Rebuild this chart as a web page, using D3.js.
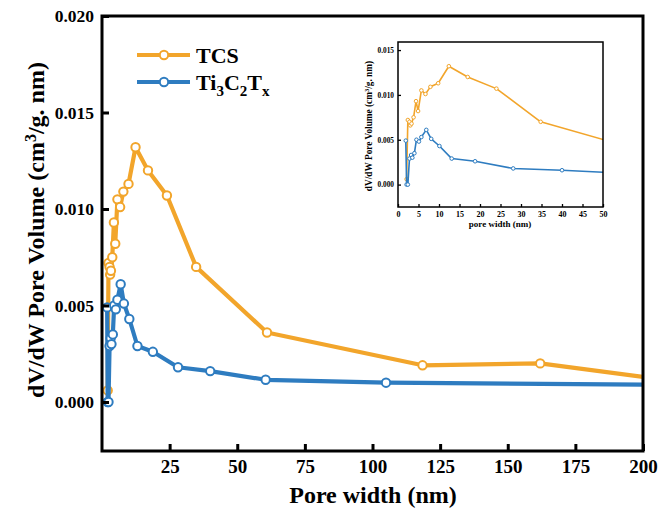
<!DOCTYPE html>
<html>
<head>
<meta charset="utf-8">
<script src="https://cdn.jsdelivr.net/npm/d3@7"></script>
<style>
  body { margin: 0; background: #fff; }
  text { font-family: "Liberation Serif", "Times New Roman", serif; font-weight: bold; }
</style>
</head>
<body>
<script>
// pore width (nm) and dV/dW values
var tcsX = [2.1, 2.4, 2.8, 3.0, 3.3, 3.8, 4.4, 4.9, 5.7, 6.7, 7.9, 9.8, 12.4, 17.0, 24.0, 34.8, 61.0, 118.5, 162.0, 200.0];
var tcsY = [0.0006, 0.0072, 0.0070, 0.0066, 0.0068, 0.0075, 0.0093, 0.0082, 0.0105, 0.0101, 0.0109, 0.0113, 0.0132, 0.0120, 0.0107, 0.0070, 0.0036, 0.0019, 0.0020, 0.0013];
var tiX = [1.9, 2.1, 2.4, 2.8, 3.2, 3.5, 4.0, 4.5, 5.1, 5.7, 6.9, 8.1, 10.1, 13.1, 18.8, 28.1, 40.0, 60.5, 105.0, 200.0];
var tiY = [0.0049, 0.0000, 0.0000, 0.0029, 0.0033, 0.0030, 0.0035, 0.0050, 0.0048, 0.0053, 0.0061, 0.0051, 0.0043, 0.0029, 0.0026, 0.0018, 0.0016, 0.00115, 0.0010, 0.0009];

var xTicks = [25, 50, 75, 100, 125, 150, 175, 200];
var yTicks = [0, 0.005, 0.010, 0.015, 0.020];
var insetXTicks = [0, 5, 10, 15, 20, 25, 30, 35, 40, 45, 50];
var insetYTicks = [0, 0.005, 0.010, 0.015];

var orange = "#f2a52b", blue = "#2e7cc0";

var w = 662, h = 511;
var svg = d3.select("body").append("svg")
    .attr("width", w)
    .attr("height", h);

function zip(xs, ys) {
    return xs.map(function(x, i) { return [x, ys[i]]; });
}
var tcs = zip(tcsX, tcsY);
var ti = zip(tiX, tiY);

// draws one framed plot with two series
function drawPlot(g, opt) {
    var x = d3.scaleLinear().domain(opt.xDomain).range([opt.left, opt.right]);
    var y = d3.scaleLinear().domain(opt.yDomain).range([opt.bottom, opt.top]);

    var clipId = "clip-" + opt.name;
    g.append("clipPath").attr("id", clipId)
      .append("rect")
        .attr("x", opt.left).attr("y", opt.top)
        .attr("width", opt.right - opt.left)
        .attr("height", opt.bottom - opt.top);

    var line = d3.line()
        .x(function(d) { return x(d[0]); })
        .y(function(d) { return y(d[1]); });

    var plotArea = g.append("g").attr("clip-path", "url(#" + clipId + ")");
    [[tcs, orange], [ti, blue]].forEach(function(s) {
        var pts = s[0].filter(function(d) { return d[0] <= opt.xDomain[1] + 60; });
        plotArea.append("path")
            .datum(pts)
            .attr("d", line)
            .attr("fill", "none")
            .attr("stroke", s[1])
            .attr("stroke-width", opt.lineW)
            .attr("stroke-linejoin", "round");
        // no marker on the points sitting on the right border
        plotArea.selectAll(null)
            .data(pts.filter(function(d) { return d[0] < opt.xDomain[1]; }))
            .enter().append("circle")
            .attr("cx", function(d) { return x(d[0]); })
            .attr("cy", function(d) { return y(d[1]); })
            .attr("r", opt.markR)
            .attr("fill", "#fff")
            .attr("stroke", s[1])
            .attr("stroke-width", opt.markW);
    });

    // axes with inward ticks
    var xAxis = g.append("g")
        .attr("transform", "translate(0," + opt.bottom + ")")
        .call(d3.axisBottom(x).tickValues(opt.xTicks).tickSize(-opt.tickLen).tickPadding(opt.tickLen + opt.xPad)
            .tickFormat(d3.format("d")));
    var yAxis = g.append("g")
        .attr("transform", "translate(" + opt.left + ",0)")
        .call(d3.axisLeft(y).tickValues(opt.yTicks).tickSize(-opt.tickLen).tickPadding(opt.tickLen + opt.yPad)
            .tickFormat(d3.format(".3f")));
    [[xAxis, opt.xFont], [yAxis, opt.yFont]].forEach(function(a) {
        a[0].select(".domain").remove();
        a[0].selectAll(".tick line").attr("stroke", "#000").attr("stroke-width", opt.tickW);
        a[0].selectAll(".tick text")
            .attr("fill", "#000")
            .style("font-size", a[1] + "px")
            .style("font-family", "'Liberation Serif', serif")
            .style("font-weight", "bold");
    });

    g.append("rect")
        .attr("x", opt.left).attr("y", opt.top)
        .attr("width", opt.right - opt.left)
        .attr("height", opt.bottom - opt.top)
        .attr("fill", "none")
        .attr("stroke", "#000")
        .attr("stroke-width", opt.frameW);

    return { x: x, y: y };
}

// main chart
var mainG = svg.append("g");
drawPlot(mainG, {
    name: "main",
    xDomain: [0, 200], yDomain: [-0.00254, 0.020],
    left: 102, right: 643, top: 16, bottom: 451,
    xTicks: xTicks, yTicks: yTicks,
    lineW: 4.2, markR: 4.2, markW: 2,
    tickLen: 7, tickW: 3, xPad: 2, yPad: 1, xFont: 19, yFont: 17.5, frameW: 3
});

mainG.append("text")
    .attr("x", 373).attr("y", 503)
    .attr("text-anchor", "middle")
    .style("font-size", "24px")
    .text("Pore width (nm)");

var yt = mainG.append("text")
    .attr("transform", "translate(44,230) rotate(-90)")
    .attr("text-anchor", "middle")
    .style("font-size", "24px");
yt.append("tspan").text("dV/dW Pore Volume (cm");
yt.append("tspan").attr("baseline-shift", "super").style("font-size", "16px").text("3");
yt.append("tspan").text("/g. nm)");

// legend
var legend = mainG.append("g");
[["TCS", orange, 55], ["Ti3C2Tx", blue, 82]].forEach(function(item) {
    legend.append("line")
        .attr("x1", 137).attr("x2", 190)
        .attr("y1", item[2]).attr("y2", item[2])
        .attr("stroke", item[1]).attr("stroke-width", 4.2);
    legend.append("circle")
        .attr("cx", 164).attr("cy", item[2]).attr("r", 4.2)
        .attr("fill", "#fff").attr("stroke", item[1]).attr("stroke-width", 2);
    var t = legend.append("text")
        .attr("x", 196).attr("y", item[2] + 8)
        .style("font-size", "22px");
    if (item[0] === "TCS") {
        t.text("TCS");
    } else {
        t.append("tspan").text("Ti");
        t.append("tspan").attr("dy", 6).style("font-size", "15px").text("3");
        t.append("tspan").attr("dy", -6).text("C");
        t.append("tspan").attr("dy", 6).style("font-size", "15px").text("2");
        t.append("tspan").attr("dy", -6).text("T");
        t.append("tspan").attr("dy", 6).style("font-size", "15px").text("x");
    }
});

// inset chart
var insetG = svg.append("g");
drawPlot(insetG, {
    name: "inset",
    xDomain: [0, 50], yDomain: [-0.0025, 0.0159],
    left: 398, right: 603, top: 42, bottom: 207,
    xTicks: insetXTicks, yTicks: insetYTicks,
    lineW: 1.6, markR: 1.8, markW: 1,
    tickLen: 3, tickW: 1.3, xPad: 1, yPad: 1, xFont: 8, yFont: 7.3, frameW: 1.5
});

insetG.append("text")
    .attr("x", 500).attr("y", 227)
    .attr("text-anchor", "middle")
    .style("font-size", "9px")
    .text("pore width (nm)");

var it = insetG.append("text")
    .attr("transform", "translate(372,126) rotate(-90)")
    .attr("text-anchor", "middle")
    .style("font-size", "9.3px");
it.append("tspan").text("dV/dW Pore Volume (cm");
it.append("tspan").attr("baseline-shift", "super").style("font-size", "6.5px").text("3");
it.append("tspan").text("/g. nm)");
</script>
</body>
</html>
